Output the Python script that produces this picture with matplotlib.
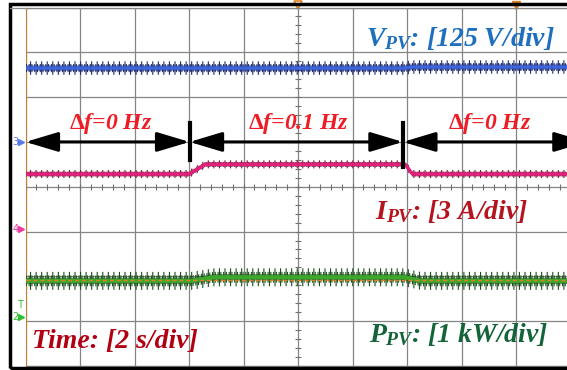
import numpy as np
import matplotlib
matplotlib.use("Agg")
import matplotlib.pyplot as plt
from matplotlib.patches import Rectangle

# scope settings
t_div = 2.0            # s/div
v_scale = 125.0        # V/div
i_scale = 3.0          # A/div
p_scale = 1.0          # kW/div

# channel ground offsets (div)
v_gnd = 1.0
i_gnd = -0.95
p_gnd = -2.91

# breakpoints of the recorded traces
t_v = [0.0, 13.9, 14.2, 20.5]
v_pv = [206, 206, 209, 209]            # V
t_i = [0.0, 6.0, 6.6, 13.93, 14.2, 20.5]
i_pv = [3.7, 3.7, 4.35, 4.35, 3.7, 3.7]  # A
t_p = [0.0, 6.1, 6.9, 13.9, 14.5, 20.5]
p_pv = [0.81, 0.81, 0.89, 0.89, 0.81, 0.81]  # kW

# frequency-shift intervals
seg_edges = [0.0, 6.02, 13.85, 20.6]
seg_labels = [r"$\Delta f$=0 Hz", r"$\Delta f$=0.1 Hz", r"$\Delta f$=0 Hz"]

plt.rcParams["mathtext.fontset"] = "custom"
plt.rcParams["mathtext.it"] = "Liberation Serif:italic:bold"
plt.rcParams["mathtext.rm"] = "Liberation Serif:bold"
plt.rcParams["mathtext.bf"] = "Liberation Serif:bold"
plt.rcParams["hatch.linewidth"] = 0.8

fig = plt.figure(figsize=(5.67, 3.70), dpi=100)
fig.add_artist(Rectangle((9.5 / 567, 2.5 / 370), 1.0, 364 / 370, transform=fig.transFigure,
                         fill=False, ec="black", lw=2.5))
fig.add_artist(plt.Line2D([10 / 567, 26 / 567], [362 / 370, 362 / 370], transform=fig.transFigure,
                          color="#8c8c8c", lw=0.9))

ax = fig.add_axes([25.5 / 567, 4 / 370, 545 / 567, 358.5 / 370])
ax.set_xlim(0, 10 * t_div)
ax.set_ylim(-4, 4)
ax.set_xticks(np.arange(0, 10 * t_div + 0.1, t_div))
ax.set_yticks(np.arange(-4, 5, 1))
ax.tick_params(length=0, labelbottom=False, labelleft=False)
ax.grid(True, color="#858585", lw=0.9)
for s in ["top", "bottom", "right"]:
    ax.spines[s].set_color("#858585")
    ax.spines[s].set_linewidth(0.9)
ax.spines["left"].set_color("#d08020")
ax.spines["left"].set_linestyle((0, (3, 2)))

# minor ticks on the centre cross
ax.plot(np.arange(0, 20.01, 0.4), np.zeros(51), ls="none", marker="|", ms=5, mew=0.8, color="#707070")
ax.plot(np.full(41, 10.0), np.arange(-4, 4.01, 0.2), ls="none", marker="_", ms=5, mew=0.8, color="#707070")


def trace(t, vals, scale, gnd, core, dark, spread, spike, lw):
    y = np.array(vals) / scale + gnd
    ax.fill_between(t, y - spike, y + spike, facecolor="none", edgecolor=dark, hatch="|||", lw=0, zorder=3)
    ax.fill_between(t, y - 0.6 * spike, y + 0.6 * spike, facecolor="none", edgecolor=dark,
                    hatch="||||||", lw=0, zorder=3)
    ax.fill_between(t, y - spread, y + spread, facecolor=dark, alpha=0.6, lw=0, zorder=3)
    ax.plot(t, y, color=core, lw=lw, zorder=4, solid_capstyle="butt")


trace(t_v, v_pv, v_scale, v_gnd, "#3c64dc", "#1c2a70", 0.06, 0.15, 2.4)
trace(t_i, i_pv, i_scale, i_gnd, "#e0207a", "#7a1a40", 0.05, 0.09, 2.4)
trace(t_p, p_pv, p_scale, p_gnd, "#3aa82a", "#1a5018", 0.07, 0.2, 3.0)

# reference line on the power channel
ax.axhline(-2.08, color="#e08020", lw=1.0, ls=(0, (3, 2)), zorder=5)

# interval arrows and dividers
arrow_y = 1.0
for k in range(3):
    ax.annotate("", xy=(seg_edges[k], arrow_y), xytext=(seg_edges[k + 1], arrow_y),
                arrowprops=dict(arrowstyle="<|-|>,head_length=1.0,head_width=0.3", color="black",
                                lw=2.2, shrinkA=0, shrinkB=0, mutation_scale=20),
                annotation_clip=False, zorder=6)
    ax.text((seg_edges[k] + min(seg_edges[k + 1], 20)) / 2 + 0.1, 1.14, seg_labels[k], color="#ee1c24",
            fontsize=17, fontfamily="Liberation Serif", fontweight="bold", fontstyle="italic",
            ha="center", va="bottom", zorder=7)
for x, y0 in [(seg_edges[1], 0.59), (seg_edges[2], 0.44)]:
    ax.plot([x, x], [y0, 1.42], color="black", lw=3, zorder=6)

# channel labels
lbl = dict(fontfamily="Liberation Serif", fontweight="bold", fontstyle="italic", fontsize=20, zorder=7)
ax.text(19.4, 3.31, r"$V_{PV}$: [125 V/$div$]", color="#1e6fbe", ha="right", va="center", **lbl)
ax.text(18.45, -0.55, r"$I_{PV}$: [3 A/div]", color="#b4141e", ha="right", va="center", **lbl)
ax.text(19.2, -3.3, r"$P_{PV}$: [1 kW/div]", color="#14643a", ha="right", va="center", **lbl)
ax.text(0.25, -3.45, "Time: [2 s/div]", color="#b00012", ha="left", va="center", **lbl)

# ground markers on the left edge
for gnd, name, col in [(v_gnd, "3", "#5a7ae8"), (i_gnd, "4", "#e83ca0"), (p_gnd, "2", "#30c030")]:
    ax.text(-0.38, gnd, name, color=col, fontsize=7, ha="center", va="center", clip_on=False, zorder=8)
    ax.plot([-0.15], [gnd], marker=">", ms=5, color=col, clip_on=False)
ax.text(-0.2, p_gnd + 0.28, "T", color="#30c030", fontsize=7, ha="center", va="center", clip_on=False)

# trigger markers on top
ax.plot([10.0], [4.06], marker="v", ms=6, mfc="none", mec="#e08020", mew=1.2, clip_on=False)
ax.plot([18.0], [4.06], marker="v", ms=6, color="#e08020", clip_on=False)

fig.savefig("out.png", dpi=100)
